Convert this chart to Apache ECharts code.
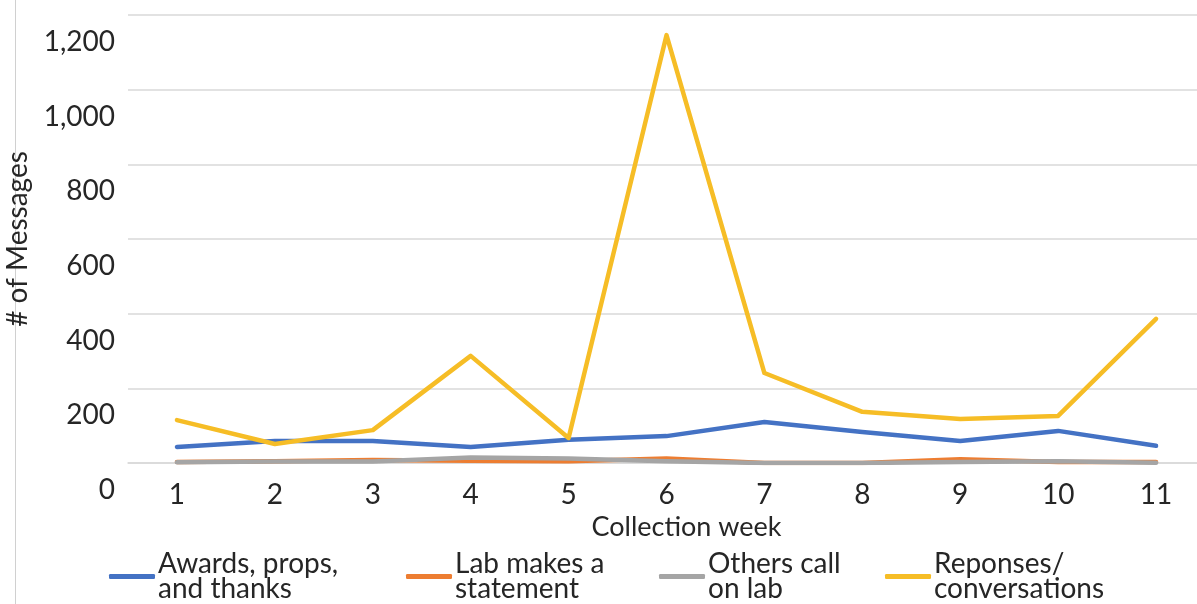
<!DOCTYPE html>
<html><head><meta charset="utf-8">
<script src="https://cdn.jsdelivr.net/npm/echarts@6/dist/echarts.min.js"></script>
<style>html,body{margin:0;padding:0;background:#fff}#c{width:1197px;height:604px}</style>
</head><body><div id="c"></div>
<script>
const weeks = ['1','2','3','4','5','6','7','8','9','10','11'];
const awards = [43, 59, 59, 43, 62, 72, 110, 83, 59, 86, 46];
const labStatement = [3, 5, 8, 6, 5, 12, 0, 0, 10, 3, 3];
const othersCall = [2, 4, 4, 15, 12, 5, 0, 0, 3, 5, 1];
const responses = [115, 51, 88, 287, 67, 1146, 241, 137, 118, 126, 386];
const seriesNames = ['Awards, props,\nand thanks', 'Lab makes a\nstatement', 'Others call\non lab', 'Reponses/\nconversations'];
const colors = ['#4472C4', '#ED7D31', '#A5A5A5', '#F6BD26'];
const yTicks = [0, 200, 400, 600, 800, 1000, 1200];

const font = 'Lato';
const txt = '#262626';
const chart = echarts.init(document.getElementById('c'), null, {renderer: 'canvas'});
const dataArr = [awards, labStatement, othersCall, responses];
const legendX = [109, 406, 659, 885];
chart.setOption({
  animation: false,
  textStyle: {fontFamily: font},
  grid: {left: 128, right: -8, top: 15, bottom: 141, containLabel: false, outerBoundsMode: 'none'},
  xAxis: {
    type: 'category', data: weeks, boundaryGap: true,
    name: 'Collection week', nameLocation: 'middle', nameGap: 45,
    nameTextStyle: {fontFamily: font, fontSize: 27, color: txt, padding: [0, 0, 0, 40]},
    axisLine: {show: true, lineStyle: {color: '#d9d9d9', width: 1.5}},
    axisTick: {show: false},
    axisLabel: {fontFamily: font, fontSize: 28, lineHeight: 28, color: txt, margin: 18}
  },
  yAxis: {
    type: 'value', min: 0, max: yTicks[yTicks.length - 1], interval: 200,
    name: '# of Messages', nameLocation: 'middle', nameGap: 96, nameRotate: 90,
    nameTextStyle: {fontFamily: font, fontSize: 28, color: txt},
    axisLine: {show: false}, axisTick: {show: false},
    splitLine: {lineStyle: {color: '#d9d9d9', width: 1.5}},
    axisLabel: {fontFamily: font, fontSize: 28, color: txt, margin: 13, verticalAlign: 'top', lineHeight: 54,
      formatter: v => v.toLocaleString('en-US')}
  },
  legend: seriesNames.map((n, i) => ({
    data: [n], left: legendX[i], top: 550, orient: 'horizontal', padding: 0,
    itemWidth: 46, itemHeight: 5, icon: 'roundRect', itemGap: 0,
    textStyle: {fontFamily: font, fontSize: 28, color: txt, lineHeight: 25, padding: [0, 0, 0, -2]}
  })),
  graphic: [{type: 'line', shape: {x1: 15.5, y1: 0, x2: 15.5, y2: 604}, style: {stroke: '#d0d0d0', lineWidth: 1}}],
  series: seriesNames.map((n, i) => ({
    name: n, type: 'line', data: dataArr[i], symbol: 'none',
    lineStyle: {color: colors[i], width: 4.5, join: 'round', cap: 'round'},
    itemStyle: {color: colors[i]}
  }))
});
</script></body></html>
